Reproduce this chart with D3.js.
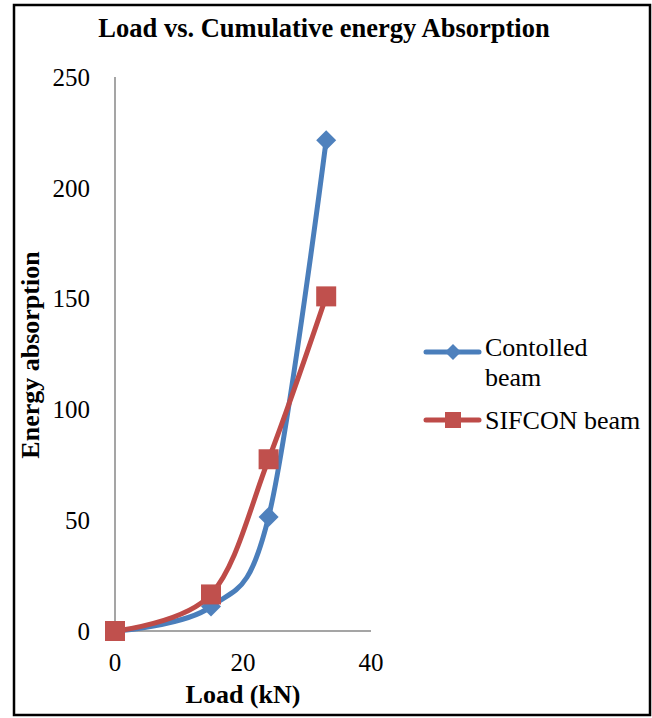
<!DOCTYPE html>
<html><head><meta charset="utf-8">
<script src="https://cdn.jsdelivr.net/npm/d3@7"></script>
<style>body{margin:0;background:#fff} text{font-family:'Liberation Serif','Times New Roman',serif}</style>
</head><body>
<svg id="c" width="652" height="718"></svg>
<script>
const loads = [0, 15, 24, 33];
const controlled = [0, 11, 51.5, 221.5];
const sifcon = [0, 16.5, 77.5, 151];
const xTicks = [0, 20, 40];
const yTicks = [0, 50, 100, 150, 200, 250];
const seriesNames = ["Contolled beam", "SIFCON beam"];
const title = "Load vs. Cumulative energy Absorption";
const xTitle = "Load (kN)";
const yTitle = "Energy absorption";

const svg = d3.select("#c");
const font = "'Liberation Serif','Times New Roman',serif";
svg.append("rect").attr("x",14).attr("y",5).attr("width",636).attr("height",710)
  .attr("fill","#fff").attr("stroke","#000").attr("stroke-width",2.5);

const x = d3.scaleLinear().domain([0,40]).range([115,371]);
const y = d3.scaleLinear().domain([0,250]).range([631,77]);

svg.append("text").attr("x",324).attr("y",37).attr("text-anchor","middle")
  .attr("font-family",font).attr("font-weight","bold").attr("font-size",26.5).text(title);

const axisColor = "#878787";
svg.append("line").attr("x1",x(0)).attr("x2",x(0)).attr("y1",y(250)).attr("y2",y(0))
  .attr("stroke",axisColor).attr("stroke-width",1.5);
svg.append("line").attr("x1",x(0)).attr("x2",x(40)).attr("y1",y(0)).attr("y2",y(0))
  .attr("stroke",axisColor).attr("stroke-width",1.5);

svg.selectAll(".yt").data(yTicks).enter().append("text")
  .attr("x",90).attr("y",d=>y(d)).attr("dy","0.35em").attr("text-anchor","end")
  .attr("font-family",font).attr("font-size",25).text(d=>d);
svg.selectAll(".xt").data(xTicks).enter().append("text")
  .attr("x",d=>x(d)).attr("y",671).attr("text-anchor","middle")
  .attr("font-family",font).attr("font-size",25).text(d=>d);

svg.append("text").attr("x",243).attr("y",703).attr("text-anchor","middle")
  .attr("font-family",font).attr("font-weight","bold").attr("font-size",26).text(xTitle);
svg.append("text").attr("transform","translate(39,355) rotate(-90)").attr("text-anchor","middle")
  .attr("font-family",font).attr("font-weight","bold").attr("font-size",26).text(yTitle);

const colors = ["#4a7ebb","#be4b48"];
const markColors = ["#4f81bd","#c0504d"];
const line = d3.line().x(d=>x(d[0])).y(d=>y(d[1])).curve(d3.curveCardinal.tension(0));
const allSeries = [controlled, sifcon];

function marker(g, i, cx, cy, s){
  if(i===0){
    g.append("path").attr("d",`M${cx},${cy-s}L${cx+s},${cy}L${cx},${cy+s}L${cx-s},${cy}Z`).attr("fill",markColors[0]);
  } else {
    g.append("rect").attr("x",cx-s).attr("y",cy-s).attr("width",2*s).attr("height",2*s).attr("fill",markColors[1]);
  }
}

allSeries.forEach((vals,i)=>{
  const pts = loads.map((l,k)=>[l,vals[k]]);
  svg.append("path").attr("d",line(pts)).attr("fill","none").attr("stroke",colors[i])
    .attr("stroke-width",5).attr("stroke-linecap","round");
});
allSeries.forEach((vals,i)=>{
  const g = svg.append("g");
  loads.forEach((l,k)=>marker(g,i,x(l),y(vals[k]),10));
});

// legend
const lg = svg.append("g");
const ly = [352, 420];
seriesNames.forEach((n,i)=>{
  lg.append("line").attr("x1",426).attr("x2",479).attr("y1",ly[i]).attr("y2",ly[i])
    .attr("stroke",colors[i]).attr("stroke-width",5).attr("stroke-linecap","round");
  marker(lg,i,453,ly[i],8);
});
lg.append("text").attr("x",485).attr("y",356).attr("font-family",font).attr("font-size",26).text("Contolled");
lg.append("text").attr("x",485).attr("y",386).attr("font-family",font).attr("font-size",26).text("beam");
lg.append("text").attr("x",485).attr("y",429).attr("font-family",font).attr("font-size",26).text("SIFCON beam");
</script>
</body></html>
